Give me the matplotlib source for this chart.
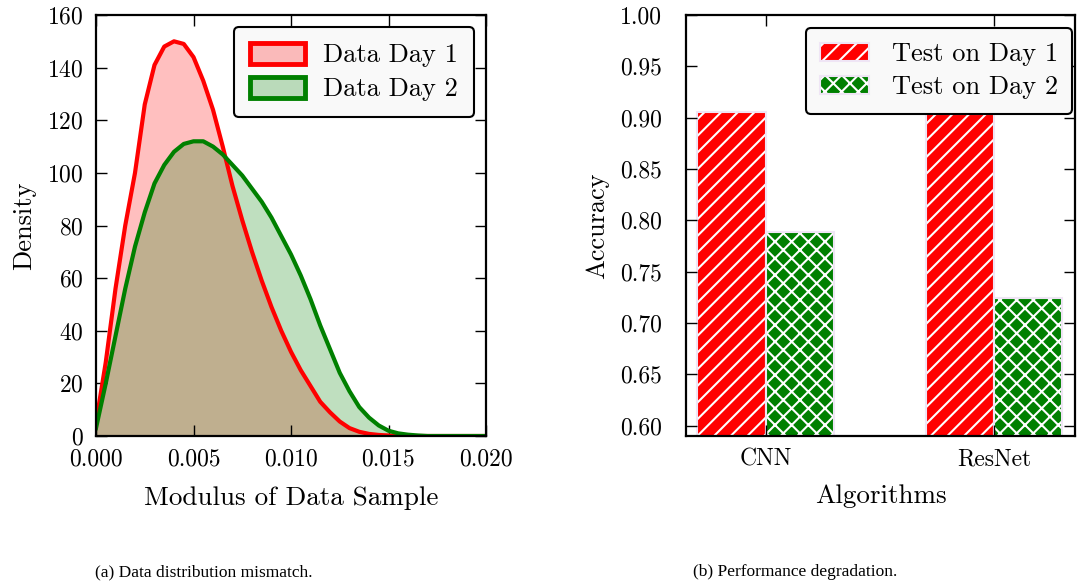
import numpy as np
import matplotlib
matplotlib.use('Agg')
import matplotlib.pyplot as plt
from matplotlib.patches import Patch

plt.rcParams['font.family'] = 'serif'
plt.rcParams['font.serif'] = ['cmr10']
plt.rcParams['mathtext.fontset'] = 'cm'
plt.rcParams['axes.unicode_minus'] = False
plt.rcParams['axes.formatter.use_mathtext'] = True
plt.rcParams['hatch.linewidth'] = 1.5

# density estimates of the sample modulus, one point every 0.0005
modulus = [i * 0.0005 for i in range(41)]
day1 = [5, 28, 56, 80, 100, 126, 141, 148, 150, 149, 144, 135, 124, 110, 95, 82,
        70, 59, 49, 40, 32, 25, 19, 13, 9, 5.5, 3, 1.6, 0.8, 0.4, 0.2,
        0, 0, 0, 0, 0, 0, 0, 0, 0, 0]
day2 = [3, 20, 38, 56, 72, 85, 96, 103, 108, 111, 112, 112, 110, 107, 103, 99,
        94, 89, 83, 76, 69, 61, 52, 42, 33, 24, 17, 11, 7, 4, 2, 1, 0.5, 0.2,
        0, 0, 0, 0, 0, 0, 0]

# accuracy of each model tested on both days
algorithms = ['CNN', 'ResNet']
acc_day1 = [0.906, 0.904]
acc_day2 = [0.789, 0.724]

fig = plt.figure(figsize=(10.83, 5.88), dpi=100)
ax1 = fig.add_axes([96/1083, 152/588, 390/1083, 421/588])
ax2 = fig.add_axes([686/1083, 152/588, 389/1083, 421/588])

# left: density curves
ax1.plot(modulus, day1, color='red', lw=3, solid_joinstyle='round')
ax1.fill_between(modulus, day1, color='red', alpha=0.25, lw=0)
ax1.plot(modulus, day2, color='green', lw=3, solid_joinstyle='round')
ax1.fill_between(modulus, day2, color='green', alpha=0.25, lw=0)
ax1.set_xlim(0, 0.02)
ax1.set_ylim(0, 160)
ax1.set_xticks([0, 0.005, 0.01, 0.015, 0.02])
ax1.set_xticklabels(['0.000', '0.005', '0.010', '0.015', '0.020'])
ax1.set_xlabel('Modulus of Data Sample', fontsize=19.5, labelpad=11)
ax1.set_ylabel('Density', fontsize=19, labelpad=8)
h1 = [Patch(facecolor=(1, 0, 0, 0.25), edgecolor='red', lw=3.5, label='Data Day 1'),
      Patch(facecolor=(0, 0.5, 0, 0.25), edgecolor='green', lw=3.5, label='Data Day 2')]
leg1 = ax1.legend(handles=h1, loc='upper right', fontsize=19, fancybox=True,
                  framealpha=1, facecolor='#f9f9f9', edgecolor='black',
                  borderaxespad=0.45, handlelength=2.1, handleheight=0.85,
                  labelspacing=0.35, borderpad=0.6, handletextpad=0.7)
leg1.get_frame().set_linewidth(1.5)

# right: grouped hatched bars
idx = np.arange(len(algorithms))
w = 0.3
edge = '#efe5f5'
b1 = ax2.bar(idx - w, acc_day1, w, align='edge', color='red', edgecolor='white', hatch='//', lw=0)
o1 = ax2.bar(idx - w, acc_day1, w, align='edge', fill=False, edgecolor=edge, lw=1.5)
b2 = ax2.bar(idx, acc_day2, w, align='edge', color='green', edgecolor='white', hatch='xx', lw=0)
o2 = ax2.bar(idx, acc_day2, w, align='edge', fill=False, edgecolor=edge, lw=1.5)
ax2.set_xlim(-0.35, 1.355)
ax2.set_ylim(0.59, 1.0)
ax2.set_xticks(idx)
ax2.set_xticklabels(algorithms)
ax2.set_yticks(np.arange(0.6, 1.001, 0.05))
ax2.set_yticklabels(['%.2f' % v for v in np.arange(0.6, 1.001, 0.05)])
ax2.set_xlabel('Algorithms', fontsize=19.5, labelpad=10)
ax2.set_ylabel('Accuracy', fontsize=19, labelpad=8)
leg2 = ax2.legend([(b1[0], o1[0]), (b2[0], o2[0])], ['Test on Day 1', 'Test on Day 2'],
                  loc='upper right', bbox_to_anchor=(0.993, 0.969), borderaxespad=0,
                  fontsize=19, fancybox=True, framealpha=1,
                  facecolor='#f9f9f9', edgecolor='black',
                  handlelength=1.85, handleheight=0.7, labelspacing=0.35,
                  borderpad=0.55, handletextpad=0.85)
leg2.get_frame().set_linewidth(1.5)

for ax in (ax1, ax2):
    ax.tick_params(direction='in', length=8, width=1, labelsize=17, pad=9,
                   top=True, right=True)
    for s in ax.spines.values():
        s.set_linewidth(1.6)
ax2.tick_params(axis='y', pad=17)

fig.text(95/1083, 1 - 572/588, '(a) Data distribution mismatch.', fontsize=12.5,
         family='Liberation Serif', va='center', ha='left')
fig.text(693/1083, 1 - 572/588, '(b) Performance degradation.', fontsize=12.5,
         family='Liberation Serif', va='center', ha='left')

fig.savefig('out.png', dpi=100)
